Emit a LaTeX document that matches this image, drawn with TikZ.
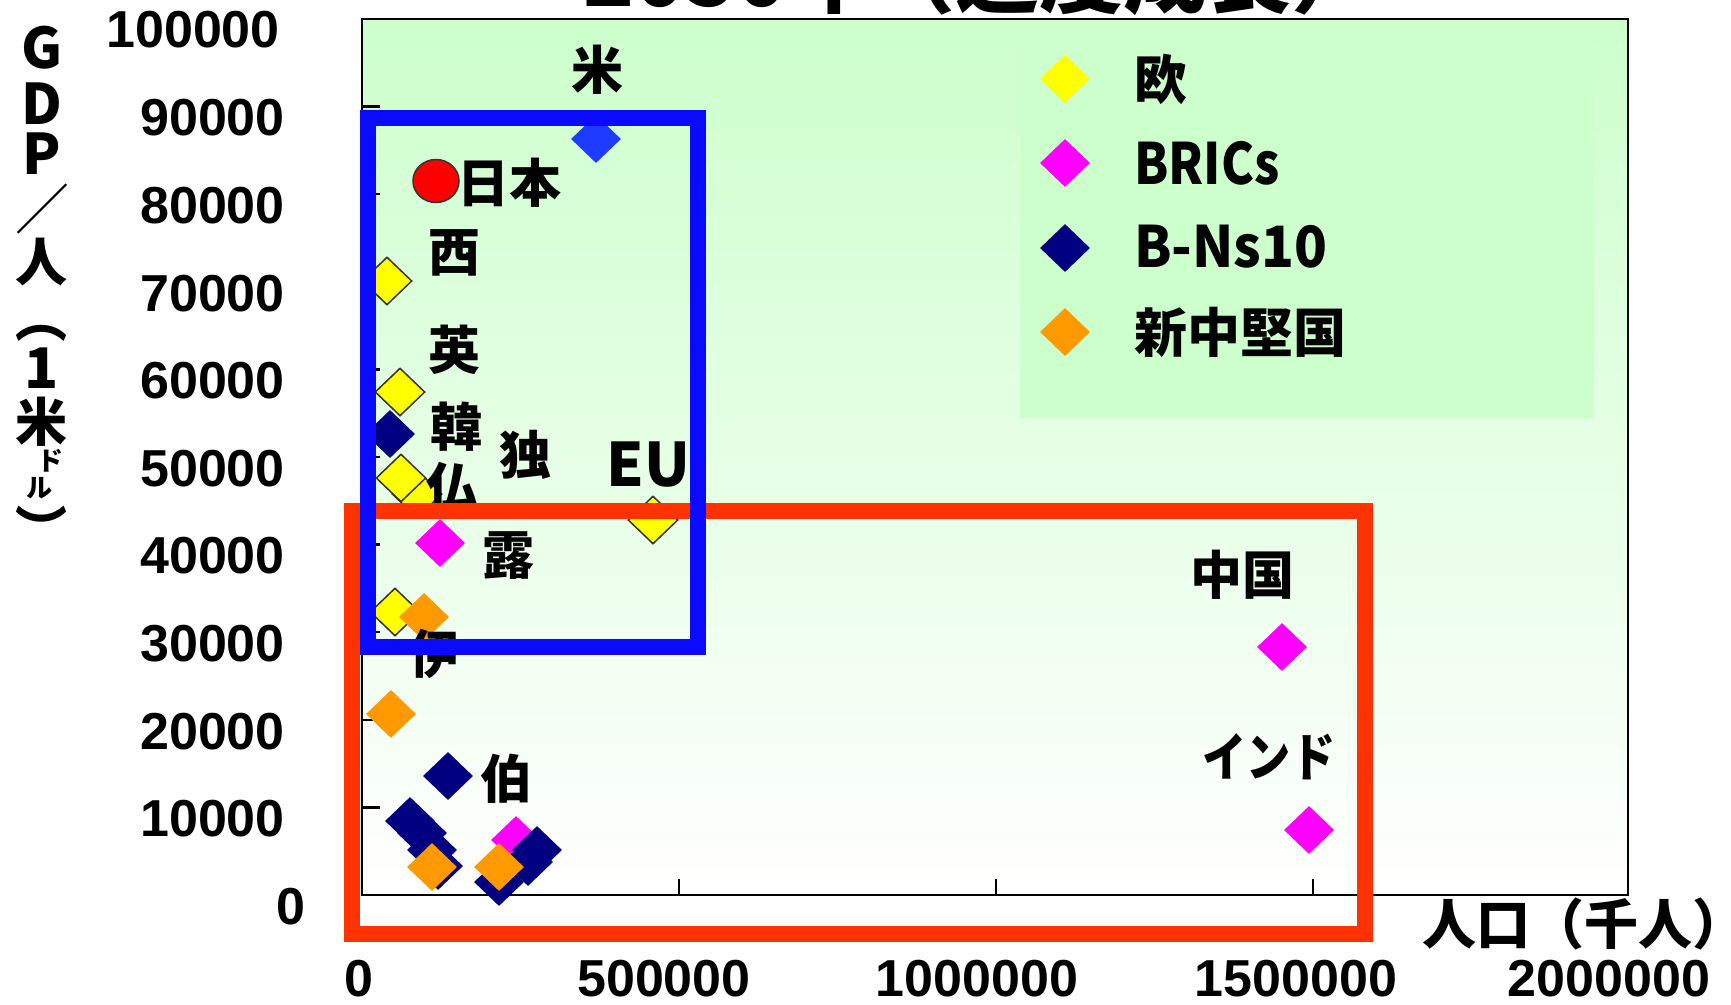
\documentclass[tikz,border=0pt]{standalone}
\usepackage{fontspec}
\setmainfont{Liberation Sans}
\newfontfamily\jpf{Noto Sans CJK JP}
\usetikzlibrary{shapes.geometric}
\definecolor{bgg}{HTML}{CCFFCC}
\definecolor{ylw}{HTML}{FFFF00}
\definecolor{mag}{HTML}{FF00FF}
\definecolor{nvy}{HTML}{000080}
\definecolor{org}{HTML}{FF9900}
\definecolor{bpt}{HTML}{1E3CFF}
\definecolor{rbox}{HTML}{FF3300}
\definecolor{bbox}{HTML}{0A0AFF}
\definecolor{outl}{HTML}{333333}
\newcommand\fsz[1]{\fontsize{#1}{#1}\selectfont}
\begin{document}
\begin{tikzpicture}[x=1pt,y=-1pt,
  dia/.style={diamond, minimum width=50pt, minimum height=48pt, inner sep=0pt},
  yel/.style={dia, fill=ylw, draw=outl, line width=1.5pt},
  mgt/.style={dia, fill=mag},
  nav/.style={dia, fill=nvy},
  orn/.style={dia, fill=org},
  blu/.style={dia, fill=bpt},
  lbl/.style={font=\jpf\bfseries\fsz{52}, inner sep=0pt},
  leg/.style={font=\jpf\bfseries\fsz{53}, inner sep=0pt, anchor=west},
  ynum/.style={font=\bfseries\fsz{52}, inner sep=0pt, anchor=east},
  xnum/.style={font=\bfseries\fsz{52}, inner sep=0pt},
  ytl/.style={font=\jpf\bfseries\fsz{56}, inner sep=0pt},
  axisline/.style={line width=2.5pt, black},
  boxline/.style={line width=16pt, line join=miter},
]
\useasboundingbox (0,0) rectangle (1731,1004);
\fill[white] (0,0) rectangle (1731,1004);
% plot area
\coordinate (PA) at (362,19);
\coordinate (PB) at (1628,895);
\shade[top color=bgg, bottom color=white] (PA) rectangle (PB);
\coordinate (LA) at (1020,19);
\coordinate (LB) at (1594,418);
\fill[bgg] (LA) rectangle (LB);
\draw[axisline] (PA) rectangle (PB);
\foreach \k in {1,...,9} \draw[axisline] (362,{895-\k*87.6}) -- ++(18,0);
\foreach \xx in {679,996,1313} \draw[axisline] (\xx,895) -- ++(0,-16);
% title (clipped at top)
\node[font=\jpf\bfseries\fsz{84}, anchor=base west, inner sep=0pt] (title) at (583,6) {2050年（適度成長）};
% legend
\node[dia, fill=ylw] (lg1) at (1065,79) {};
\node[dia, fill=mag] (lg2) at (1065,163) {};
\node[dia, fill=nvy] (lg3) at (1065,248) {};
\node[dia, fill=org] (lg4) at (1065,332) {};
\node[leg] (lt1) at (1134,79) {欧};
\node[leg, font=\jpf\bfseries\fsz{57}] (lt2) at (1134,163) {\scalebox{0.87}[1]{BRICs}};
\node[leg, font=\jpf\bfseries\fsz{57}] (lt3) at (1134,247) {\scalebox{0.95}[1]{B-Ns10}};
\node[leg] (lt4) at (1134,332) {新中堅国};
% data points
\node[blu] (pUS) at (596,139) {};
\node[ellipse, minimum width=46pt, minimum height=43pt, inner sep=0pt, fill=red, draw=outl, line width=1.5pt] (pJP) at (436,181) {};
\node[yel] (pES) at (387,281) {};
\node[yel] (pUK) at (400,392) {};
\node[nav] (pKR) at (390,434) {};
\node[yel] (pDE) at (417,494) {};
\node[yel] (pFR) at (401,478) {};
\node[yel] (pEU) at (653,520) {};
\node[mgt] (pRU) at (440,543) {};
\node[yel] (pIT) at (395,612) {};
\node[orn] (pN1) at (424,617) {};
\node[orn] (pN2) at (391,714) {};
\node[nav] (pBR) at (448,776) {};
\node[nav] (pB1) at (410,821) {};
\node[nav] (pB2) at (422,833) {};
\node[nav] (pB3) at (432,850) {};
\node[nav] (pB4) at (438,866) {};
\node[mgt] (pM1) at (516,840) {};
\node[nav] (pB5) at (537,850) {};
\node[nav] (pB6) at (528,862) {};
\node[nav] (pB7) at (499,882) {};
\node[orn] (pN3) at (432,867) {};
\node[orn] (pN4) at (499,867) {};
\node[mgt] (pCN) at (1282,647) {};
\node[mgt] (pIN) at (1309,830) {};
% point labels
\node[lbl] (tUS) at (597,70) {米};
\node[lbl, anchor=west] (tJP) at (457,183) {日本};
\node[lbl] (tES) at (454,253) {西};
\node[lbl] (tUK) at (454,350) {英};
\node[lbl] (tKR) at (456,427) {韓};
\node[lbl] (tDE) at (525,455) {独};
\node[lbl] (tFR) at (452,487) {仏};
\node[lbl, font=\jpf\bfseries\fsz{60}] (tEU) at (648,465) {EU};
\node[lbl] (tRU) at (508,556) {露};
\node[lbl] (tIT) at (434,654) {伊};
\node[lbl] (tBR) at (506,779) {伯};
\node[lbl] (tCN) at (1242,575) {中国};
\node[lbl] (tIN) at (1269,757) {\scalebox{0.85}[1]{インド}};
% highlight boxes
\coordinate (RA) at (352,511);
\coordinate (RB) at (1365,934);
\draw[boxline, rbox] (RA) rectangle (RB);
\coordinate (BA) at (368,118);
\coordinate (BB) at (698,647);
\draw[boxline, bbox] (BA) rectangle (BB);
% y tick labels
\node[ynum] (y10) at (280,30) {100000};
\node[ynum] (y9) at (285,118) {90000};
\node[ynum] (y8) at (285,206) {80000};
\node[ynum] (y7) at (285,294) {70000};
\node[ynum] (y6) at (285,381) {60000};
\node[ynum] (y5) at (285,469) {50000};
\node[ynum] (y4) at (285,556) {40000};
\node[ynum] (y3) at (285,644) {30000};
\node[ynum] (y2) at (285,732) {20000};
\node[ynum] (y1) at (285,819) {10000};
\node[ynum] (y0) at (306,907) {0};
% x tick labels
\node[xnum] (x0) at (359,979) {0};
\node[xnum] (x1) at (664,979) {500000};
\node[xnum] (x2) at (977,979) {1000000};
\node[xnum] (x3) at (1296,979) {1500000};
\node[xnum] (x4) at (1609,979) {2000000};
% axis titles
\node[font=\jpf\bfseries\fsz{54}, inner sep=0pt, anchor=west] (xt) at (1422,924) {人口（千人）};
\node[ytl] (v1) at (42,48) {G};
\node[ytl] (v2) at (42,104) {D};
\node[ytl] (v3) at (42,154) {P};
\node[ytl, font=\jpf\fsz{54}] (v4) at (42,209) {／};
\node[ytl, font=\jpf\bfseries\fsz{52}] (v5) at (42,262) {人};
\node[ytl, font=\jpf\bfseries\fsz{52}] (v6) at (42,333) {︵};
\node[ytl] (v7) at (42,368) {1};
\node[ytl, font=\jpf\bfseries\fsz{52}] (v8) at (42,422) {米};
\node[ytl, font=\jpf\bfseries\fsz{26}] (v9) at (50,461) {ド};
\node[ytl, font=\jpf\bfseries\fsz{26}] (v10) at (40,488) {ル};
\node[ytl, font=\jpf\bfseries\fsz{52}] (v11) at (42,528) {︶};
\end{tikzpicture}
\end{document}
